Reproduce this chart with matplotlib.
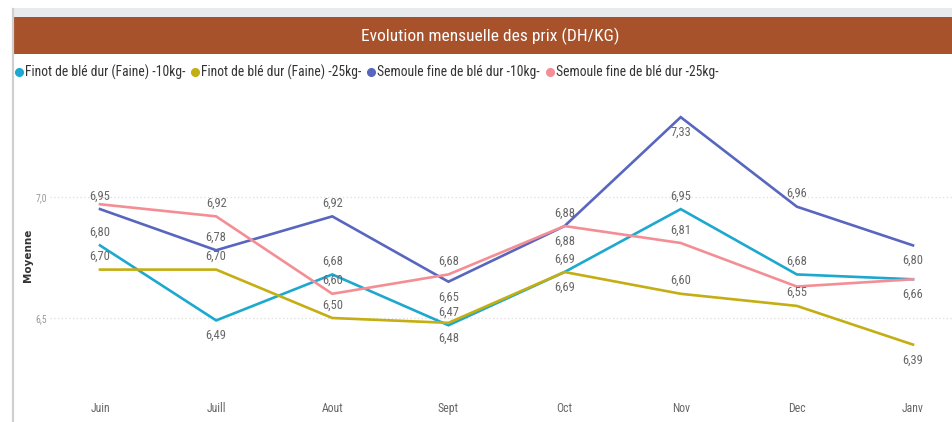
import matplotlib
matplotlib.use("Agg")
import matplotlib.pyplot as plt
from matplotlib.lines import Line2D
from matplotlib.patches import Rectangle

plt.rcParams['font.family'] = ['Roboto Condensed', 'DejaVu Sans']

months = ["Juin", "Juill", "Aout", "Sept", "Oct", "Nov", "Dec", "Janv"]
series_names = [
    "Finot de blé dur (Faine) -10kg-",
    "Finot de blé dur (Faine) -25kg-",
    "Semoule fine de blé dur -10kg-",
    "Semoule fine de blé dur -25kg-",
]
finot_10 = [6.80, 6.49, 6.68, 6.47, 6.69, 6.95, 6.68, 6.66]
finot_25 = [6.70, 6.70, 6.50, 6.48, 6.69, 6.60, 6.55, 6.39]
semoule_10 = [6.95, 6.78, 6.92, 6.65, 6.88, 7.33, 6.96, 6.80]
semoule_25 = [6.97, 6.92, 6.60, 6.68, 6.88, 6.81, 6.63, 6.66]
yticks = [6.5, 7.0]
ytick_labels = ["6,5", "7,0"]

colors = ["#1DA8CF", "#C4AE12", "#5866BF", "#F48E95"]
# label placement: 'a' above, 'b' below, None hidden
placements = [
    ['a', 'b', 'a', 'a', 'a', 'a', 'a', None],
    ['a', 'a', 'a', 'b', 'b', 'a', 'a', 'b'],
    ['a', 'a', 'a', 'b', 'a', 'b', 'a', 'b'],
    [None, 'a', 'a', 'a', 'b', 'a', None, 'b'],
]
data = [finot_10, finot_25, semoule_10, semoule_25]

W, H = 952, 422
fig = plt.figure(figsize=(W / 100, H / 100), dpi=100)
fig.patch.set_facecolor("white")

def fx(x):
    return x / W

def fy(y):
    return 1 - y / H

# header decorations
fig.add_artist(Rectangle((fx(13), fy(17)), fx(952 - 13), 9 / H,
                         transform=fig.transFigure, color="#E7EBEB", lw=0))
fig.add_artist(Rectangle((fx(14), fy(54)), fx(952 - 14), 37 / H,
                         transform=fig.transFigure, color="#A7522B", lw=0))
fig.add_artist(Line2D([fx(13), fx(13)], [fy(9), 0], transform=fig.transFigure,
                      color="#CFCFCF", lw=1.6))
fig.text(fx(490), fy(36), "Evolution mensuelle des prix (DH/KG)", color="white",
         fontsize=12.5, ha="center", va="center")

# axes
ax_left, ax_right, ax_top, ax_bot = 50, 952, 95, 395
ax = fig.add_axes([fx(ax_left), 1 - ax_bot / H, (ax_right - ax_left) / W, (ax_bot - ax_top) / H])
x = list(range(len(months)))
for vals, c, name in zip(data, colors, series_names):
    ax.plot(x, vals, color=c, lw=1.9, solid_joinstyle="miter", label=name, zorder=3)

for vals, pl in zip(data, placements):
    for i, (v, p) in enumerate(zip(vals, pl)):
        if p is None:
            continue
        off = 9.5 if p == 'a' else -11
        ax.annotate(f"{v:.2f}".replace(".", ","), (i, v), xytext=(0, off),
                    textcoords="offset points", ha="center", va="center",
                    fontsize=9, color="#666666", zorder=4)

spacing = 116.14
ax.set_xlim(-(100 - ax_left) / spacing, 7 + (ax_right - 913) / spacing)
ppu = 242.0
ax.set_ylim(6.5 - (ax_bot - 318) / ppu, 7.0 + (197 - ax_top) / ppu)
ax.set_xticks(x)
ax.set_xticklabels(months, fontsize=8.5, color="#666666")
ax.set_yticks(yticks)
ax.set_yticklabels(ytick_labels, fontsize=7, color="#9A9A9A")
ax.tick_params(axis="both", length=0)
ax.tick_params(axis="x", pad=5)
ax.tick_params(axis="y", pad=2)
for s in ax.spines.values():
    s.set_visible(False)
ax.grid(axis="y", color="#DDDDDD", lw=0.9, linestyle=(0, (1, 2)))
ax.set_axisbelow(True)
fig.text(fx(28), fy(255), "Moyenne", rotation=90, fontsize=7.5, color="#333333",
         ha="center", va="center", family="DejaVu Sans", fontweight="bold")

handles = [Line2D([], [], marker="o", linestyle="none", color=c, markersize=5.5)
           for c in colors]
fig.legend(handles, series_names, loc="center left",
           bbox_to_anchor=(fx(13), fy(72)), frameon=False, ncol=4,
           fontsize=9.8, handletextpad=0.0, columnspacing=0.25, handlelength=0.9,
           borderpad=0, borderaxespad=0, labelcolor="#333333")

fig.savefig("out.png", dpi=100)
